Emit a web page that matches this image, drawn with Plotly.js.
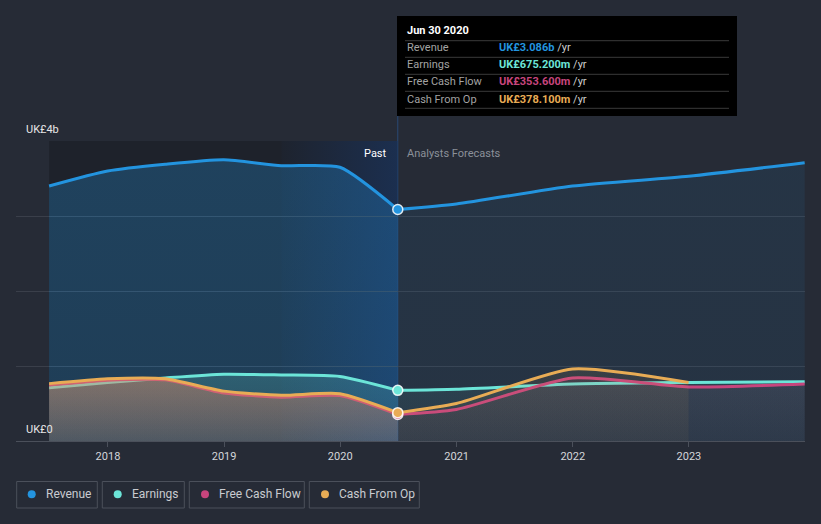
<!DOCTYPE html>
<html>
<head>
<meta charset="utf-8">
<script src="https://cdn.plot.ly/plotly-3.0.1.min.js"></script>
<style>
html,body{margin:0;padding:0;background:#262b36;}
#chart{width:821px;height:524px;}
</style>
</head>
<body>
<div id="chart"></div>
<script>
// ---- data (UK£ billions) ----
const pastDates = ['2017-06-30','2017-12-31','2018-06-30','2018-12-31','2019-06-30','2019-12-31','2020-06-30'];
const revenuePast  = [3.40, 3.60, 3.69, 3.75, 3.67, 3.65, 3.086];
const earningsPast = [0.71, 0.78, 0.84, 0.89, 0.88, 0.86, 0.6752];
const fcfPast      = [0.745, 0.81, 0.815, 0.64, 0.585, 0.605, 0.3536];
const cfoPast      = [0.765, 0.83, 0.83, 0.665, 0.61, 0.63, 0.3781];

const fcDates = ['2020-06-30','2020-12-31','2021-12-31','2022-12-31','2023-12-31'];
const revenueFc  = [3.086, 3.16, 3.40, 3.53, 3.71];
const earningsFc = [0.6752, 0.69, 0.76, 0.78, 0.79];
const fcfFc      = [0.3536, 0.42, 0.84, 0.72, 0.76];
const cfoFc      = [0.3781, 0.50, 0.96, 0.78];

const yTickVals = [0, 1, 2, 3, 4];
const xTickVals = ['2018-01-01','2019-01-01','2020-01-01','2021-01-01','2022-01-01','2023-01-01'];
const xTickText = ['2018','2019','2020','2021','2022','2023'];

const seriesNames = ['Revenue','Earnings','Free Cash Flow','Cash From Op'];
const tooltipDate = 'Jun 30 2020';
const tooltipValues = ['UK£3.086b','UK£675.200m','UK£353.600m','UK£378.100m'];
const nowDate = '2020-06-30';
const yearBefore = '2019-06-30';

// ---- styles ----
const colors = ['#2394df','#6ce5d8','#c7457d','#e8ac55'];
const rgb = ['35,148,223','108,229,216','199,69,125','232,172,85'];
const pastAlpha = [0.28, 0.20, 0.24, 0.30];
const fcAlpha = [0.09, 0.08, 0.08, 0.10];
const bottomRatio = [0.85, 0.45, 0.45, 0.45];

const pastSeries = [revenuePast, earningsPast, fcfPast, cfoPast];
const fcSeries = [revenueFc, earningsFc, fcfFc, cfoFc];

function grad(i, a, arr) {
  return {type: 'vertical', start: 0, stop: Math.max.apply(null, arr),
    colorscale: [[0, 'rgba(' + rgb[i] + ',' + (a * bottomRatio[i]).toFixed(3) + ')'],
                 [1, 'rgba(' + rgb[i] + ',' + a + ')']]};
}

const traces = [];
for (let i = 0; i < 4; i++) {
  traces.push({
    x: pastDates, y: pastSeries[i], type: 'scatter', mode: 'lines',
    line: {color: colors[i], width: 3, shape: 'spline', smoothing: 0.6},
    fill: 'tozeroy', fillcolor: 'rgba(' + rgb[i] + ',' + pastAlpha[i] + ')',
    fillgradient: grad(i, pastAlpha[i], pastSeries[i]),
    hoverinfo: 'skip', showlegend: false
  });
  traces.push({
    x: fcDates.slice(0, fcSeries[i].length), y: fcSeries[i], type: 'scatter', mode: 'lines',
    line: {color: colors[i], width: 3, shape: 'spline', smoothing: 0.6},
    fill: 'tozeroy', fillcolor: 'rgba(' + rgb[i] + ',' + fcAlpha[i] + ')',
    fillgradient: grad(i, fcAlpha[i], fcSeries[i]),
    hoverinfo: 'skip', showlegend: false
  });
}
// markers at the highlighted date
[0, 1, 2, 3].forEach(i => {
  const arr = pastSeries[i];
  traces.push({
    x: [pastDates[pastDates.length - 1]], y: [arr[arr.length - 1]],
    type: 'scatter', mode: 'markers',
    marker: {color: colors[i], size: 10, line: {color: 'rgba(255,255,255,0.85)', width: 1.5}},
    hoverinfo: 'skip', showlegend: false
  });
});

// ---- pixel helpers for paper coordinates ----
const L = 16, R = 805, T = 141, B = 441;
const PX = p => (p - L) / (R - L);
const PY = p => (B - p) / (B - T);

const gradSvg = '<svg xmlns="http://www.w3.org/2000/svg" viewBox="0 0 100 100" preserveAspectRatio="none">' +
  '<defs><linearGradient id="g" x1="0" x2="1" y1="0" y2="0">' +
  '<stop offset="0" stop-color="rgb(22,72,150)" stop-opacity="0.03"/>' +
  '<stop offset="1" stop-color="rgb(22,72,150)" stop-opacity="0.34"/>' +
  '</linearGradient></defs><rect x="0" y="0" width="100" height="100" fill="url(#g)"/></svg>';
const gradSrc = 'data:image/svg+xml;charset=utf-8,' + encodeURIComponent(gradSvg);
const yearMs = (new Date(nowDate) - new Date(yearBefore));

const shapes = [
  {type: 'rect', xref: 'x', yref: 'y', x0: pastDates[0], x1: nowDate, y0: 0, y1: 4,
   fillcolor: 'rgba(0,0,0,0.2)', line: {width: 0}, layer: 'below'},
  {type: 'line', xref: 'x', yref: 'paper', x0: nowDate, x1: nowDate, y0: 0, y1: PY(16),
   line: {color: 'rgba(45,110,190,0.45)', width: 1}, layer: 'below'},
  {type: 'rect', xref: 'paper', yref: 'paper', x0: PX(397), x1: PX(737), y0: PY(116), y1: PY(16),
   fillcolor: '#000000', line: {width: 0}, layer: 'above'}
];
[40.7, 57.3, 74.3, 91.3, 108.3].forEach(yy => {
  shapes.push({type: 'line', xref: 'paper', yref: 'paper', x0: PX(405), x1: PX(729), y0: PY(yy), y1: PY(yy),
    line: {color: '#3a3a3a', width: 1}, layer: 'above'});
});

const baseFont = {family: 'Roboto, sans-serif', size: 11, color: '#e6e6e6'};
function ann(text, px, py, anchor, color, size) {
  return {xref: 'paper', yref: 'paper', showarrow: false, x: PX(px), y: PY(py),
    xanchor: anchor, yanchor: 'middle', text: text,
    font: Object.assign({}, baseFont, {color: color || baseFont.color, size: size || 11})};
}
const annotations = [
  ann('UK£4b', 24, 129, 'left'),
  ann('UK£0', 24, 429, 'left'),
  ann('Past', 389, 153, 'right', '#ffffff'),
  ann('Analysts Forecasts', 405, 153, 'left', '#8b9099'),
  ann('<b>' + tooltipDate + '</b>', 405, 31, 'left', '#ffffff')
];
const rowY = [48, 65, 82, 99];
for (let i = 0; i < 4; i++) {
  annotations.push(ann(seriesNames[i], 405, rowY[i], 'left', '#a3a3a3'));
  annotations.push(ann('<span style="color:' + colors[i] + '"><b>' + tooltipValues[i] + '</b></span> /yr',
    497, rowY[i], 'left', '#cfcfcf'));
}

// legend boxes
const legBoxes = [[16.7, 97.3], [102.3, 184.3], [189.3, 304.3], [309.3, 419.3]];
const legDots = [31.7, 117.7, 205, 325];
const legText = [44.3, 130, 217.3, 337.3];
for (let i = 0; i < 4; i++) {
  shapes.push({type: 'rect', xref: 'paper', yref: 'paper', x0: PX(legBoxes[i][0]), x1: PX(legBoxes[i][1]),
    y0: PY(508), y1: PY(481.5), fillcolor: 'rgba(0,0,0,0)', line: {color: '#4b505b', width: 1}});
  shapes.push({type: 'circle', xref: 'paper', yref: 'paper', x0: PX(legDots[i] - 4), x1: PX(legDots[i] + 4),
    y0: PY(498.3), y1: PY(490.3), fillcolor: colors[i], line: {width: 0}});
  annotations.push(ann(seriesNames[i], legText[i], 494.5, 'left', '#c9cbd0', 12));
}

const layout = {
  width: 821, height: 524,
  margin: {l: L, r: 821 - R, t: T, b: 524 - B},
  paper_bgcolor: '#262b36', plot_bgcolor: '#262b36',
  showlegend: false, hovermode: false,
  font: {family: 'Roboto, sans-serif', size: 11, color: '#d4d6da'},
  xaxis: {type: 'date', range: ['2017-03-18', '2024-01-01'], tickvals: xTickVals, ticktext: xTickText,
    showgrid: false, zeroline: false, showline: true, linecolor: '#4b505b', linewidth: 1,
    ticks: 'outside', ticklen: 5, tickcolor: '#4b505b', tickfont: {size: 11, color: '#d4d6da'}, fixedrange: true},
  yaxis: {range: [0, 4], tickvals: yTickVals, showticklabels: false, showgrid: true, gridcolor: '#3a3f4a',
    zeroline: false, fixedrange: true},
  shapes: shapes, annotations: annotations,
  images: [{source: gradSrc, xref: 'x', yref: 'y', x: yearBefore, y: 4, sizex: yearMs, sizey: 4,
    xanchor: 'left', yanchor: 'top', sizing: 'stretch', layer: 'below', opacity: 1}]
};

Plotly.newPlot('chart', traces, layout, {staticPlot: true, displayModeBar: false});
</script>
</body>
</html>
